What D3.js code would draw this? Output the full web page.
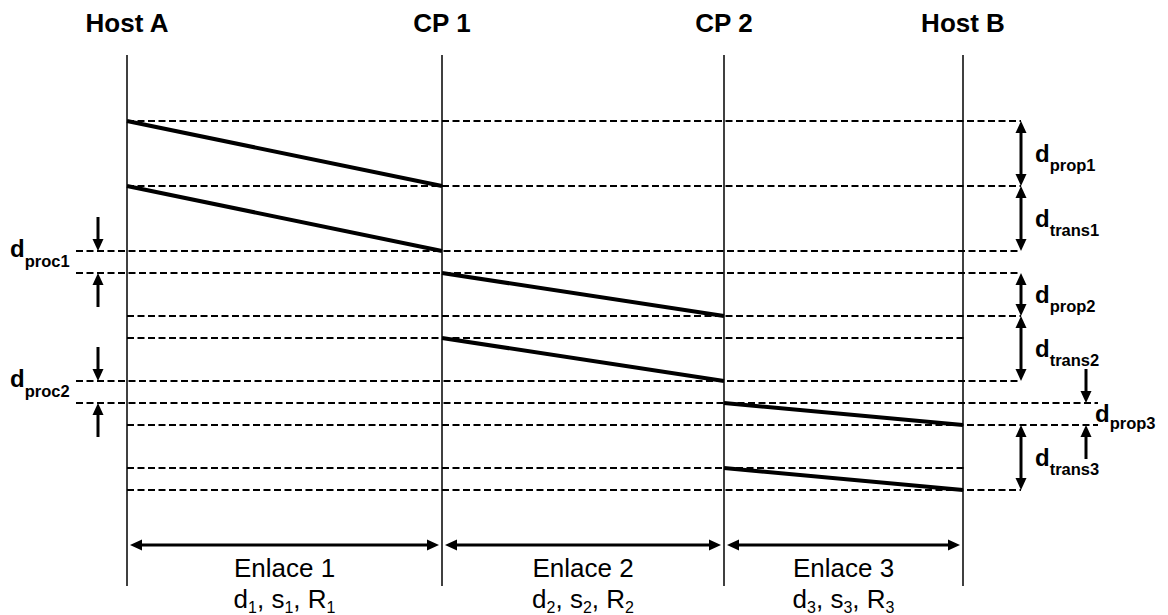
<!DOCTYPE html>
<html>
<head>
<meta charset="utf-8">
<script src="https://cdn.jsdelivr.net/npm/d3@7"></script>
<style>
body{margin:0;background:#fff}
text{font-family:Arial,'Liberation Sans',sans-serif;fill:#000}
</style>
</head>
<body>
<svg id="chart" width="1168" height="615"></svg>
<script>
// nodos y distancia acumulada (unidades arbitrarias)
var nodes = ['Host A', 'CP 1', 'CP 2', 'Host B']
var nodeDist = [0, 315, 597, 836]
var links = ['Enlace 1', 'Enlace 2', 'Enlace 3']
var linkParams = [['d', 's', 'R'], ['d', 's', 'R'], ['d', 's', 'R']]

// instantes (unidades de tiempo) del primer y ultimo bit en cada enlace
var firstSent    = [0, 7, 13]
var firstArrived = [3, 9, 14]
var lastSent     = [3, 10, 16]
var lastArrived  = [6, 12, 17]

// retardos anotados: [inicio, fin]
var propDelays  = [[0, 3], [7, 9], [13, 14]]
var transDelays = [[3, 6], [9, 12], [14, 17]]
var procDelays  = [[6, 7], [12, 13]]

var svg = d3.select('#chart')

var x = d3.scaleLinear().domain([0, 836]).range([127, 963])
var y = d3.scaleLinear().domain([0, 17]).range([120.7, 489.6])
var yr = t => Math.round(y(t))

var annX = 1021, annFarX = 1086, procX = 98
var leftX = 76

// anotaciones: doble flecha (a la derecha) o flechas hacia dentro
var notes = []
propDelays.forEach((d, i) => notes.push({t: d, sub: 'prop' + (i + 1), kind: i == 2 ? 'in-right' : 'double'}))
transDelays.forEach((d, i) => notes.push({t: d, sub: 'trans' + (i + 1), kind: 'double'}))
procDelays.forEach((d, i) => notes.push({t: d, sub: 'proc' + (i + 1), kind: 'in-left'}))

// lineas guia discontinuas, una por cada instante
var times = Array.from(new Set(notes.flatMap(d => d.t)
  .concat(firstSent, firstArrived, lastSent, lastArrived))).sort((a, b) => a - b)
var guides = times.map(t => {
  var own = notes.filter(n => n.t.includes(t))
  var start = own.some(n => n.kind == 'in-left') ? leftX : x(0)
  var end = x(nodeDist[3]) + 3
  own.forEach(n => {
    if (n.kind == 'double') end = Math.max(end, annX)
    if (n.kind == 'in-right') end = Math.max(end, annFarX + 12)
  })
  return {t, start, end}
})

svg.append('g').selectAll('line').data(guides).join('line')
  .attr('x1', d => d.start).attr('x2', d => d.end)
  .attr('y1', d => yr(d.t)).attr('y2', d => yr(d.t))
  .attr('stroke', '#000').attr('stroke-width', 2.2)
  .attr('stroke-dasharray', '7,3.5')

// ejes verticales de cada nodo
svg.append('g').selectAll('line').data(nodeDist).join('line')
  .attr('x1', d => x(d)).attr('x2', d => x(d))
  .attr('y1', 55).attr('y2', 586)
  .attr('stroke', '#000').attr('stroke-width', 1.5)

svg.append('g').selectAll('text').data(nodes).join('text')
  .attr('x', (d, i) => x(nodeDist[i])).attr('y', 32)
  .attr('text-anchor', 'middle')
  .style('font-size', '26px').style('font-weight', 'bold')
  .text(d => d)

// primer y ultimo bit de cada paquete
var packets = []
links.forEach((l, i) => {
  packets.push({x1: x(nodeDist[i]), y1: yr(firstSent[i]), x2: x(nodeDist[i + 1]), y2: yr(firstArrived[i])})
  packets.push({x1: x(nodeDist[i]), y1: yr(lastSent[i]), x2: x(nodeDist[i + 1]), y2: yr(lastArrived[i])})
})
svg.append('g').selectAll('line').data(packets).join('line')
  .attr('x1', d => d.x1).attr('y1', d => d.y1)
  .attr('x2', d => d.x2).attr('y2', d => d.y2)
  .attr('stroke', '#000').attr('stroke-width', 4)

// flechas
var arrowG = svg.append('g')
function head(tx, ty, dx, dy){
  // punta en (tx,ty), direccion (dx,dy) unitaria
  var L = 12, W = 5.5
  var bx = tx - dx * L, by = ty - dy * L
  arrowG.append('path')
    .attr('d', `M${tx},${ty}L${bx - dy * W},${by + dx * W}L${bx + dy * W},${by - dx * W}Z`)
    .attr('fill', '#000')
}
function arrow(x1, y1, x2, y2, both){
  var len = Math.hypot(x2 - x1, y2 - y1), dx = (x2 - x1) / len, dy = (y2 - y1) / len
  var s = both ? 10 : 0
  arrowG.append('line')
    .attr('x1', x1 + dx * s).attr('y1', y1 + dy * s)
    .attr('x2', x2 - dx * 10).attr('y2', y2 - dy * 10)
    .attr('stroke', '#000').attr('stroke-width', 3)
  head(x2, y2, dx, dy)
  if (both) head(x1, y1, -dx, -dy)
}

function label(sel, px, py, sub, size, subSize, dy){
  var t = sel.append('text').attr('x', px).attr('y', py)
    .style('font-weight', 'bold').style('font-size', size + 'px')
  t.append('tspan').text('d')
  t.append('tspan').attr('dy', dy).style('font-size', subSize + 'px').text(sub)
}

notes.forEach(n => {
  var y0 = yr(n.t[0]), y1 = yr(n.t[1]), mid = (y0 + y1) / 2
  if (n.kind == 'double'){
    arrow(annX, y0, annX, y1, true)
    label(svg, annX + 14, mid + 8, n.sub, 24, 16.5, 9)
  } else if (n.kind == 'in-right'){
    arrow(annFarX, y0 - 34, annFarX, y0)
    arrow(annFarX, y1 + 34, annFarX, y1)
    label(svg, annFarX + 9, mid + 8, n.sub, 24, 16.5, 7)
  } else {
    arrow(procX, y0 - 34, procX, y0)
    arrow(procX, y1 + 34, procX, y1)
    label(svg, 10, mid - 5, n.sub, 24, 16.5, 10)
  }
})

// enlaces
var linkY = 545
links.forEach((l, i) => {
  var a = x(nodeDist[i]), b = x(nodeDist[i + 1]), c = (a + b) / 2
  arrow(a + 3, linkY, b - 3, linkY, true)
  svg.append('text').attr('x', c).attr('y', 577)
    .attr('text-anchor', 'middle').style('font-size', '26px').text(l)
  var t = svg.append('text').attr('x', c).attr('y', 608)
    .attr('text-anchor', 'middle').style('font-size', '26px')
  linkParams[i].forEach((p, j) => {
    t.append('tspan').attr('dy', j ? -5 : 0).text((j ? ', ' : '') + p)
    t.append('tspan').attr('dy', 5).style('font-size', '16px').text(i + 1)
  })
})
</script>
</body>
</html>
